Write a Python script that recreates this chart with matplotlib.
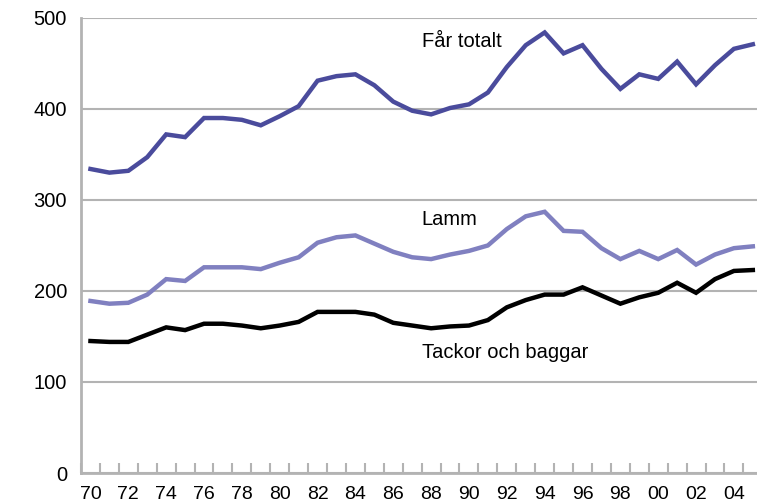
import numpy as np
import matplotlib.pyplot as plt

plt.rcParams['font.family'] = ['Liberation Sans', 'DejaVu Sans']

# data (tusental djur), 1970-2005
years = list(range(1970, 2006))
far_totalt = [334, 330, 332, 347, 372, 369, 390, 390, 388, 382, 392, 403,
              431, 436, 438, 426, 408, 398, 394, 401, 405, 418, 446, 470,
              484, 461, 470, 444, 422, 438, 433, 452, 427, 448, 466, 471]
lamm = [189, 186, 187, 196, 213, 211, 226, 226, 226, 224, 231, 237,
        253, 259, 261, 252, 243, 237, 235, 240, 244, 250, 268, 282,
        287, 266, 265, 247, 235, 244, 235, 245, 229, 240, 247, 249]
tackor_baggar = [145, 144, 144, 152, 160, 157, 164, 164, 162, 159, 162, 166,
                 177, 177, 177, 174, 165, 162, 159, 161, 162, 168, 182, 190,
                 196, 196, 204, 195, 186, 193, 198, 209, 198, 213, 222, 223]
tick_labels = ['70', '72', '74', '76', '78', '80', '82', '84', '86', '88',
               '90', '92', '94', '96', '98', '00', '02', '04']

x = np.arange(len(years))

fig = plt.figure(figsize=(7.57, 5.04), dpi=100)
ax = fig.add_axes([0.107, 0.0615, 0.900, 0.903])

ax.plot(x, far_totalt, color='#4a4b9c', lw=3.2, solid_joinstyle='miter')
ax.plot(x, lamm, color='#8080c0', lw=3.2, solid_joinstyle='miter')
ax.plot(x, tackor_baggar, color='#000000', lw=3.2, solid_joinstyle='miter')

ax.set_xlim(-0.5, len(years) - 0.5)
ax.set_ylim(0, 500)
ax.set_yticks([0, 100, 200, 300, 400, 500])
ax.yaxis.grid(True, color='#b3b3b3', lw=1.5)
ax.set_axisbelow(True)

for s in ['top', 'right']:
    ax.spines[s].set_visible(False)
for s in ['left', 'bottom']:
    ax.spines[s].set_color('#b3b3b3')
    ax.spines[s].set_linewidth(2)

ax.set_xticks(x[::2])
ax.set_xticklabels(tick_labels)
ax.set_xticks(np.arange(-0.5, len(years)), minor=True)
ax.tick_params(axis='x', which='major', length=0, pad=9, labelsize=14)
ax.tick_params(axis='x', which='minor', direction='in', length=7,
               color='#b3b3b3', width=1.5)
ax.tick_params(axis='y', length=0, pad=10, labelsize=14.5)

ax.text(17.5, 474, 'Får totalt', fontsize=14.5, va='center')
ax.text(17.5, 278, 'Lamm', fontsize=14.5, va='center')
ax.text(17.5, 132, 'Tackor och baggar', fontsize=14.5, va='center')

plt.savefig('out.png', dpi=100)
